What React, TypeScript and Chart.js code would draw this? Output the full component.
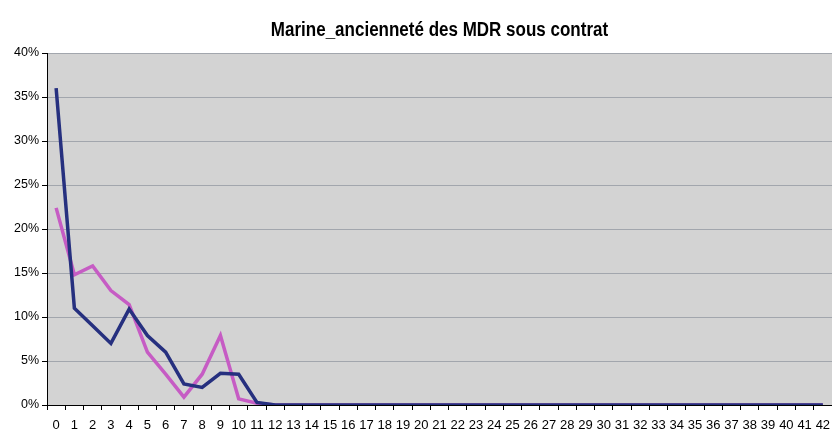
import React, { useEffect, useRef } from "react";
import { Chart, registerables } from "chart.js";

Chart.register(...registerables);

const categories: string[] = Array.from({ length: 43 }, (_, i) => String(i));

const seriesBlue: number[] = [
  36.0, 11.0, 9.0, 7.0, 10.9, 7.9, 6.0, 2.4, 2.0, 3.6, 3.5, 0.3, 0,
  0, 0, 0, 0, 0, 0, 0, 0, 0, 0, 0, 0, 0, 0, 0, 0, 0, 0, 0, 0, 0, 0, 0, 0, 0, 0, 0, 0, 0, 0,
];

const seriesPink: number[] = [
  22.4, 14.8, 15.8, 13.0, 11.4, 6.0, 3.5, 0.9, 3.5, 7.9, 0.7, 0.2, 0,
  0, 0, 0, 0, 0, 0, 0, 0, 0, 0, 0, 0, 0, 0, 0, 0, 0, 0, 0, 0, 0, 0, 0, 0, 0, 0, 0, 0, 0, 0,
];

const titleText = "Marine_ancienneté des MDR sous contrat";

const FONT = "'Liberation Sans', Arial, sans-serif";

const plotBg = {
  id: "plotBg",
  beforeDraw(chart: any) {
    const { ctx, chartArea } = chart;
    if (!chartArea) return;
    ctx.save();
    ctx.fillStyle = "#d3d3d3";
    ctx.fillRect(chartArea.left, chartArea.top, chartArea.right - chartArea.left, chartArea.bottom - chartArea.top);
    ctx.restore();
  },
};

// Title centred over the plot area, drawn in a slightly condensed bold face
const plotTitle = {
  id: "plotTitle",
  afterDraw(chart: any) {
    const { ctx, chartArea } = chart;
    if (!chartArea) return;
    const cx = (chartArea.left + chartArea.right) / 2;
    const sx = 0.85;
    ctx.save();
    ctx.translate(cx, 30);
    ctx.scale(sx, 1);
    ctx.font = "bold 20px " + FONT;
    ctx.fillStyle = "#000";
    ctx.textAlign = "center";
    ctx.textBaseline = "middle";
    ctx.fillText(titleText, 0, 0);
    ctx.restore();
  },
};

export default function App() {
  const ref = useRef<HTMLCanvasElement | null>(null);
  useEffect(() => {
    if (!ref.current) return;
    const chart = new Chart(ref.current, {
      type: "line",
      data: {
        labels: categories,
        datasets: [
          {
            label: "A",
            data: seriesBlue,
            borderColor: "#26307f",
            borderWidth: 3.5,
            pointRadius: 0,
            tension: 0,
          },
          {
            label: "B",
            data: seriesPink,
            borderColor: "#c65cc4",
            borderWidth: 3.5,
            pointRadius: 0,
            tension: 0,
          },
        ],
      },
      options: {
        animation: false,
        responsive: false,
        maintainAspectRatio: false,
        layout: { padding: { left: 0, right: 0, top: 53, bottom: 0 } },
        plugins: {
          legend: { display: false },
          tooltip: { enabled: false },
          title: { display: false },
        },
        scales: {
          x: {
            type: "category",
            offset: true,
            grid: {
              offset: true,
              drawOnChartArea: false,
              drawTicks: true,
              tickLength: 5,
              color: "#000",
            },
            border: { color: "#000", width: 1 },
            ticks: {
              autoSkip: false,
              maxRotation: 0,
              minRotation: 0,
              color: "#000",
              padding: 8,
              font: { family: FONT, size: 13 },
            },
            afterFit(scale: any) {
              scale.height = 27;
              scale.paddingLeft = 0;
              scale.paddingRight = 0;
            },
          },
          y: {
            min: 0,
            max: 40,
            grid: {
              color: "#a2a6ad",
              drawTicks: true,
              tickLength: 5,
              tickColor: "#000",
            },
            border: { color: "#000", width: 1 },
            ticks: {
              stepSize: 5,
              color: "#000",
              padding: 3,
              font: { family: FONT, size: 12.5 },
              callback: (v: any) => v + "%",
            },
            afterFit(scale: any) {
              scale.width = 47;
              scale.paddingTop = 0;
              scale.paddingBottom = 0;
            },
          },
        },
      },
      plugins: [plotBg, plotTitle],
    });
    return () => chart.destroy();
  }, []);
  return (
    <div style={{ position: "absolute", left: 0, top: 0, width: 832, height: 432, background: "#fff" }}>
      <canvas ref={ref} width={832} height={432} style={{ display: "block" }} />
    </div>
  );
}
